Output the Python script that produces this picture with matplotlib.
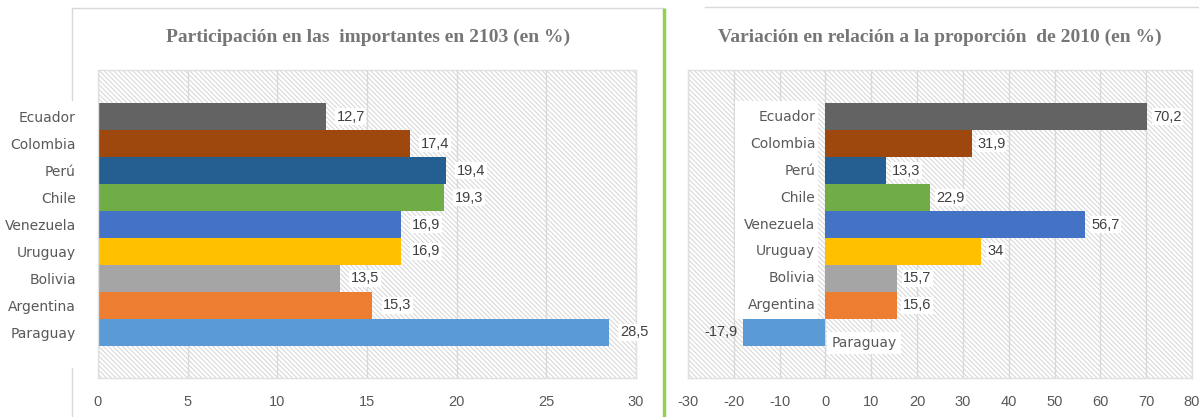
import matplotlib.pyplot as plt
from matplotlib.patches import Rectangle
from matplotlib.lines import Line2D

plt.rcParams['hatch.linewidth'] = 0.7

paises = ['Ecuador', 'Colombia', 'Perú', 'Chile', 'Venezuela', 'Uruguay',
          'Bolivia', 'Argentina', 'Paraguay']
participacion = [12.7, 17.4, 19.4, 19.3, 16.9, 16.9, 13.5, 15.3, 28.5]
variacion = [70.2, 31.9, 13.3, 22.9, 56.7, 34, 15.7, 15.6, -17.9]
colores = ['#636363', '#9E480E', '#255E91', '#70AD47', '#4472C4', '#FFC000',
           '#A5A5A5', '#ED7D31', '#5B9BD5']

titulo_izq = 'Participación en las  importantes en 2103 (en %)'
titulo_der = 'Variación en relación a la proporción  de 2010 (en %)'

W, H = 1199, 417
fuente_num = ['Liberation Sans', 'DejaVu Sans']
gris = '#595959'


def fmt(v):
    if v == int(v):
        return str(int(v))
    return f'{v:.1f}'.replace('.', ',')


def preparar_eje(ax, xmin, xmax, paso):
    ax.add_patch(Rectangle((0, 0), 1, 1, transform=ax.transAxes, facecolor='white',
                           edgecolor='#d4d4d4', hatch='\\\\\\\\\\\\\\', lw=0, zorder=0))
    ax.set_xlim(xmin, xmax)
    ax.set_ylim(9.7, -1.74)
    ax.set_xticks(range(xmin, xmax + 1, paso))
    ax.set_xticklabels([str(t) for t in range(xmin, xmax + 1, paso)],
                       fontfamily=fuente_num, fontsize=10.5, color=gris)
    ax.tick_params(axis='x', length=0, pad=12)
    ax.grid(axis='x', color='#d9d9d9', lw=1)
    ax.set_axisbelow(True)
    for s in ax.spines.values():
        s.set_color('#e0e0e0')
        s.set_linewidth(1)


fig = plt.figure(figsize=(W / 100, H / 100), dpi=100)
fig.patch.set_facecolor('white')

# panel izquierdo
ax1 = fig.add_axes([98 / W, 39 / H, 538 / W, 308 / H])
preparar_eje(ax1, 0, 30, 5)
y = list(range(len(paises)))
ax1.barh(y, participacion, height=1.0, color=colores, zorder=2)
ax1.set_yticks(y)
ax1.set_yticklabels(paises, fontsize=10, color=gris)
ax1.tick_params(axis='y', length=0, pad=16)
for i, v in enumerate(participacion):
    ax1.text(v + 0.6, i, fmt(v), va='center', ha='left', fontsize=10.5,
             fontfamily=fuente_num, color='#404040', zorder=3,
             bbox=dict(facecolor='white', edgecolor='none', pad=1))
fig.text(368 / W, 1 - 37 / H, titulo_izq, ha='center', va='center',
         fontfamily='Liberation Serif', fontweight='bold', fontsize=14, color='#767676')

# panel derecho
ax2 = fig.add_axes([688 / W, 39 / H, 504 / W, 308 / H])
preparar_eje(ax2, -30, 80, 10)
ax2.set_yticks([])
ax2.barh(y, variacion, height=1.0, color=colores, zorder=2)
ax2.add_patch(Rectangle((-19.8, -0.6), 18.2, 8.1, facecolor='white',
                        edgecolor='none', zorder=2.5))
for i, (p, v) in enumerate(zip(paises, variacion)):
    if v >= 0:
        ax2.text(-2.2, i, p, ha='right', va='center', fontsize=10, color=gris, zorder=3)
        ax2.text(v + 1.3, i, fmt(v), ha='left', va='center', fontsize=10.5,
                 fontfamily=fuente_num, color='#404040', zorder=3,
                 bbox=dict(facecolor='white', edgecolor='none', pad=1))
    else:
        ax2.text(1.3, i + 0.4, p, ha='left', va='center', fontsize=10, color=gris,
                 zorder=3, bbox=dict(facecolor='white', edgecolor='none', pad=3))
        ax2.text(v - 1.3, i, fmt(v), ha='right', va='center', fontsize=10.5,
                 fontfamily=fuente_num, color='#404040', zorder=3)
fig.text(940 / W, 1 - 37 / H, titulo_der, ha='center', va='center',
         fontfamily='Liberation Serif', fontweight='bold', fontsize=14, color='#767676')

# marcos y separador
borde = '#d9d9d9'
fig.add_artist(Line2D([72 / W, 664 / W], [1 - 8 / H, 1 - 8 / H], color=borde, lw=1))
fig.add_artist(Line2D([72 / W, 72 / W], [1 - 8 / H, 1 - 100 / H], color=borde, lw=1))
fig.add_artist(Line2D([72 / W, 72 / W], [1 - 368 / H, 0], color=borde, lw=1))
fig.add_artist(Line2D([705 / W, 1], [1 - 7 / H, 1 - 7 / H], color=borde, lw=1))
fig.add_artist(Line2D([664 / W, 664 / W], [1 - 10 / H, 0], color='#92D050', lw=2.5))

fig.savefig('out.png', dpi=100)
